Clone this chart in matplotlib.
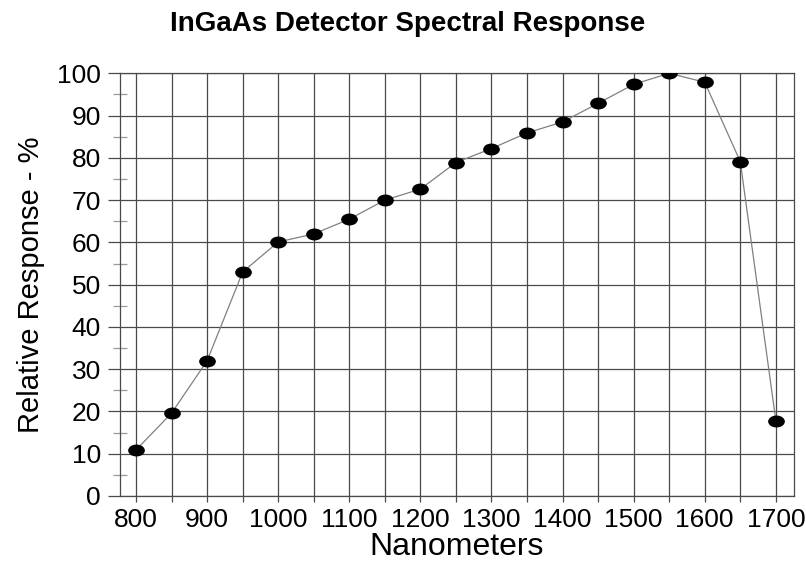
import matplotlib
matplotlib.use("Agg")
import matplotlib.pyplot as plt
from matplotlib.path import Path
from matplotlib.ticker import MultipleLocator
import matplotlib.transforms as mtransforms

plt.rcParams['font.family'] = ['Liberation Sans', 'DejaVu Sans']

wavelength = [800, 850, 900, 950, 1000, 1050, 1100, 1150, 1200, 1250,
              1300, 1350, 1400, 1450, 1500, 1550, 1600, 1650, 1700]
response = [10.9, 19.6, 32.0, 53.0, 60.1, 62.0, 65.5, 70.0, 72.6, 78.9,
            82.2, 85.9, 88.5, 92.9, 97.4, 100.0, 97.9, 79.1, 17.8]

title = "InGaAs Detector Spectral Response"
xlabel = "Nanometers"
ylabel = "Relative Response - %"

# flattened ellipse marker like the original
ellipse = Path.unit_circle().transformed(mtransforms.Affine2D().scale(1.45, 1.0))

fig = plt.figure(figsize=(8.06, 5.61), dpi=100)
ax = fig.add_axes([0.1485, 0.1159, 0.837, 0.7534])

ax.plot(wavelength, response, color="#808080", lw=0.9, zorder=3)
ax.plot(wavelength, response, ls="none", marker=ellipse, ms=11,
        color="black", zorder=4)

ax.set_xlim(777, 1726)
ax.set_ylim(0, 100)
ax.xaxis.set_major_locator(MultipleLocator(100))
ax.xaxis.set_minor_locator(MultipleLocator(50))
ax.yaxis.set_major_locator(MultipleLocator(10))
ax.yaxis.set_minor_locator(MultipleLocator(5))

grid_color = "#4a4a4a"
ax.grid(True, which="major", axis="both", color=grid_color, lw=0.9)
ax.grid(True, which="minor", axis="x", color=grid_color, lw=0.9)
ax.set_axisbelow(True)
for s in ax.spines.values():
    s.set_color(grid_color)
    s.set_linewidth(0.9)

ax.tick_params(axis="x", which="both", direction="out", length=4.5,
               width=0.9, color=grid_color, labelsize=19, pad=4)
ax.tick_params(axis="y", which="major", direction="out", length=8.4,
               width=0.9, color=grid_color, labelsize=19, pad=5)
ax.tick_params(axis="y", which="minor", direction="inout", length=9.5,
               width=0.9, color="#9a9a9a")

ax.set_xlabel(xlabel, fontsize=23, labelpad=0)
ax.set_ylabel(ylabel, fontsize=21, labelpad=9)
fig.text(0.5055, 0.957, title, ha="center", va="center",
         fontsize=20, fontweight="bold")

fig.savefig("out.png", dpi=100)
